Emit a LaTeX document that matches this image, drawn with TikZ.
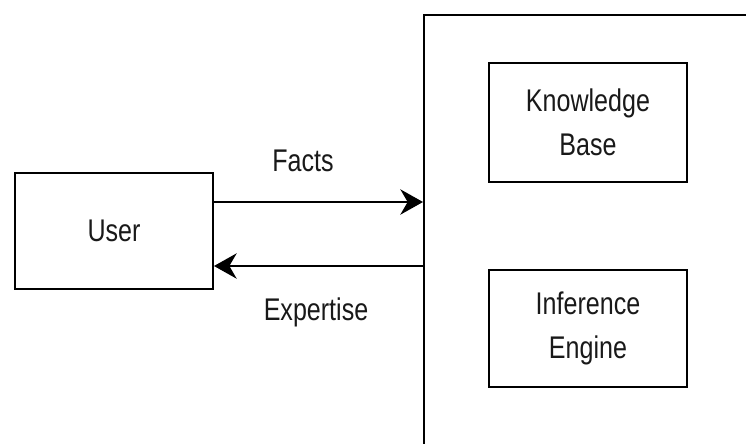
\documentclass[tikz,border=0pt]{standalone}
\usepackage{fontspec}
\setmainfont{Liberation Sans}
\usetikzlibrary{arrows.meta}
\newcommand{\nar}[1]{\scalebox{0.8}[1]{#1}}
\begin{document}
\begin{tikzpicture}[x=0.75pt,y=-0.75pt,
  box/.style={draw=black, line width=1.5pt, rectangle, inner sep=0pt,
    minimum width=148.5pt, align=center, text=black!90,
    font=\fontsize{23.5}{33}\selectfont},
  lbl/.style={text=black!90, inner sep=0pt, font=\fontsize{23.5}{33}\selectfont},
  flow/.style={line width=1.5pt, -{Stealth[length=17pt, width=19pt, inset=5.5pt]}}
]
\clip (0,0) rectangle (746,443);
\fill[white] (0,0) rectangle (746,443);

% system boundary, running past the right and bottom edges
\node[draw=black, line width=1.5pt, rectangle, inner sep=0pt, anchor=north west,
      minimum width=300pt, minimum height=400pt] (sys) at (423,14) {};

% parts of the system
\node[box, minimum height=89pt] (kb) at (588,122.5) {\nar{Knowledge}\\\nar{Base}};
\node[box, minimum height=88pt] (ie) at (588,328.5) {\nar{Inference}\\\nar{Engine}};

% the user
\node[box, minimum height=87pt] (user) at (114,231) {\nar{User}};

% exchange between the user and the system
\draw[flow] (user.east |- 0,202) -- (sys.west |- 0,202);
\draw[flow] (sys.west |- 0,266) -- (user.east |- 0,266);

\node[lbl] (facts) at (303,161) {\nar{Facts}};
\node[lbl] (expertise) at (316,312) {\nar{Expertise}};
\end{tikzpicture}
\end{document}
